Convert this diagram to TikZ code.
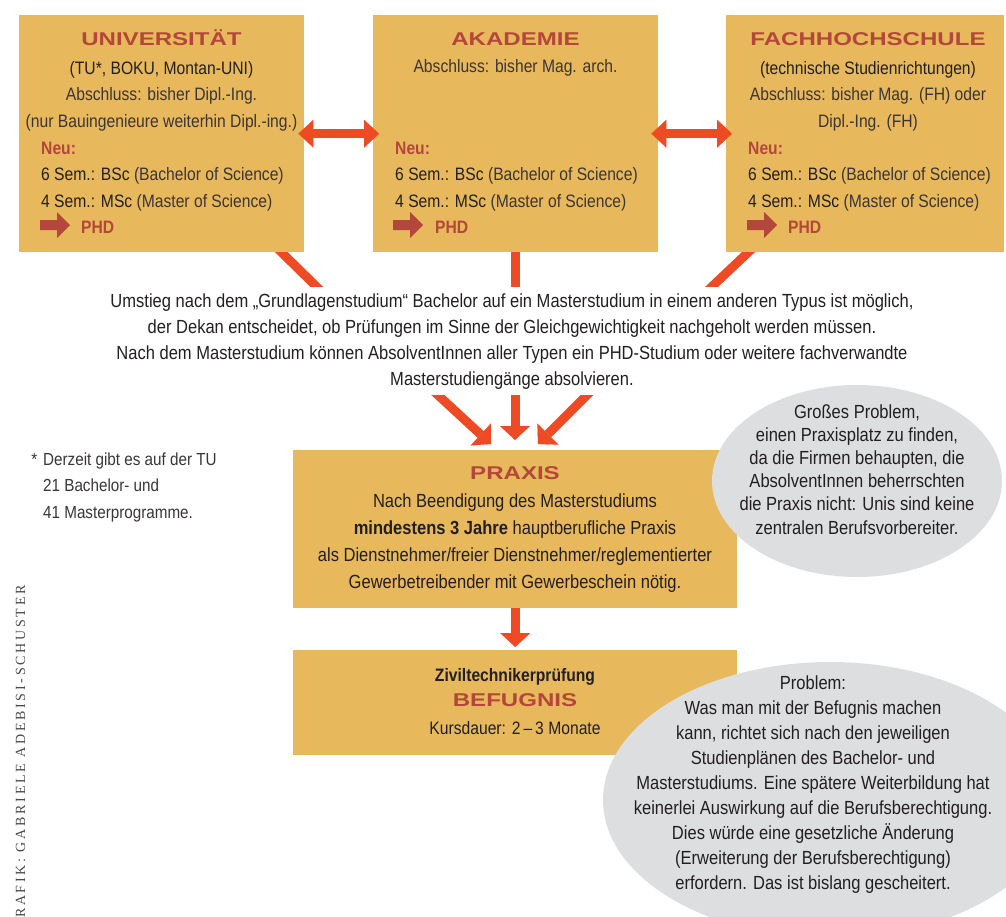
\documentclass[tikz,border=0pt]{standalone}
\usepackage{fontspec}
\setmainfont{Liberation Sans}[FakeStretch=0.87]
\newfontfamily\titlefont{Liberation Sans}[FakeStretch=1.3]
\newfontfamily\creditfont{Liberation Serif}[LetterSpace=19.5]
\usetikzlibrary{arrows.meta,shapes.geometric}
\definecolor{boxfill}{HTML}{E8B85C}
\definecolor{titlered}{HTML}{B4473B}
\definecolor{arrowor}{HTML}{EE4B24}
\definecolor{ellgray}{HTML}{DDDEE0}
\definecolor{ink}{HTML}{231F20}
\definecolor{lightink}{HTML}{3A3536}
\definecolor{creditgray}{HTML}{4A4A4A}
\tikzset{
  box/.style={fill=boxfill, draw=none, inner sep=0pt, anchor=north west},
  ttl/.style={font=\titlefont\bfseries\fontsize{18.5}{20}\selectfont, text=titlered, inner sep=0pt, anchor=base},
  hdr/.style={font=\fontsize{18}{26.5}\selectfont, align=center, inner sep=0pt, anchor=base, text=lightink},
  bodytxt/.style={font=\fontsize{18}{26.5}\selectfont, align=left, inner sep=0pt, anchor=base west, text=ink},
  phdtxt/.style={font=\bfseries\fontsize{18}{20}\selectfont, text=titlered, inner sep=0pt, anchor=base west},
  conn/.style={draw=arrowor, line width=9pt},
  dblarrow/.style={conn, {Triangle[length=15pt,width=28pt,line width=0.1pt]}-{Triangle[length=15pt,width=28pt,line width=0.1pt]}},
  downarrow/.style={conn, -{Triangle[length=14pt,width=30pt,line width=0.1pt]}},
  ell/.style={ellipse, fill=ellgray, draw=none, inner sep=0pt},
  elltxt/.style={align=center, inner sep=0pt, anchor=base, text=ink},
}
\begin{document}
\begin{tikzpicture}[x=1pt,y=-1pt]
\useasboundingbox (0,0) rectangle (1006,916);

% connector end points
\coordinate (l1a) at (272,243);
\coordinate (l1b) at (325,295);
\coordinate (l2a) at (515.5,243);
\coordinate (l2b) at (515.5,295);
\coordinate (l3a) at (758,243);
\coordinate (l3b) at (703,295);
\coordinate (d1a) at (427,385);
\coordinate (d2a) at (515,385);
\coordinate (d3a) at (597,385);
\coordinate (d1b) at (491,444);
\coordinate (d2b) at (515,440);
\coordinate (d3b) at (538,444);

% lines from boxes to the explanation text
\begin{scope}
  \clip (0,252) rectangle (1006,286);
  \draw[conn] (l1a) -- (l1b);
  \draw[conn] (l2a) -- (l2b);
  \draw[conn] (l3a) -- (l3b);
\end{scope}
% arrows from the explanation text to PRAXIS
\begin{scope}
  \clip (0,395) rectangle (1006,450);
  \draw[downarrow] (d1a) -- (d1b);
  \draw[downarrow] (d2a) -- (d2b);
  \draw[downarrow] (d3a) -- (d3b);
\end{scope}

% top boxes
\node[box, minimum width=285, minimum height=237] (uni) at (19,15) {};
\node[box, minimum width=285, minimum height=237] (aka) at (373,15) {};
\node[box, minimum width=278, minimum height=237] (fh) at (726,15) {};

% Universitaet
\node[ttl] (unit) at (161.5,45) {UNIVERSITÄT};
\node[hdr] (unih) at (161.5,127) {\textcolor{ink}{(TU*, BOKU, Montan-UNI)}\\Abschluss: bisher Dipl.-Ing.\\(nur Bauingenieure weiterhin Dipl.-ing.)};
\node[bodytxt] (unib) at (41,207) {\textcolor{titlered}{\bfseries Neu:}\\6 Sem.: BSc \textcolor{lightink}{(Bachelor of Science)}\\4 Sem.: MSc \textcolor{lightink}{(Master of Science)}};
\fill[titlered] (40,220) -- (57,220) -- (57,212) -- (70,225) -- (57,238) -- (57,230) -- (40,230) -- cycle;
\node[phdtxt] (uniphd) at (81,233.5) {PHD};

% Akademie
\node[ttl] (akat) at (515.5,45) {AKADEMIE};
\node[hdr] (akah) at (515.5,72) {Abschluss: bisher Mag. arch.};
\node[bodytxt] (akab) at (395,207) {\textcolor{titlered}{\bfseries Neu:}\\6 Sem.: BSc \textcolor{lightink}{(Bachelor of Science)}\\4 Sem.: MSc \textcolor{lightink}{(Master of Science)}};
\fill[titlered] (393,220) -- (410,220) -- (410,212) -- (423,225) -- (410,238) -- (410,230) -- (393,230) -- cycle;
\node[phdtxt] (akaphd) at (435,233.5) {PHD};

% Fachhochschule
\node[ttl] (fht) at (868,45) {FACHHOCHSCHULE};
\node[hdr] (fhh) at (868,127) {\textcolor{ink}{(technische Studienrichtungen)}\\Abschluss: bisher Mag. (FH) oder\\Dipl.-Ing. (FH)};
\node[bodytxt] (fhb) at (748,207) {\textcolor{titlered}{\bfseries Neu:}\\6 Sem.: BSc \textcolor{lightink}{(Bachelor of Science)}\\4 Sem.: MSc \textcolor{lightink}{(Master of Science)}};
\fill[titlered] (747,220) -- (764,220) -- (764,212) -- (777,225) -- (764,238) -- (764,230) -- (747,230) -- cycle;
\node[phdtxt] (fhphd) at (788,233.5) {PHD};

% double arrows between the boxes
\draw[dblarrow] ([xshift=-6pt]uni.east) -- ([xshift=6pt]aka.west);
\draw[dblarrow] ([xshift=-7pt]aka.east) -- ([xshift=6pt]fh.west);

% explanation text
\node[font=\fontsize{19}{26}\selectfont, align=center, inner sep=0pt, anchor=base, text=ink] (umstieg) at (512,385)
 {Umstieg nach dem „Grundlagenstudium“ Bachelor auf ein Masterstudium in einem anderen Typus ist möglich,\\
  der Dekan entscheidet, ob Prüfungen im Sinne der Gleichgewichtigkeit nachgeholt werden müssen.\\
  Nach dem Masterstudium können AbsolventInnen aller Typen ein PHD-Studium oder weitere fachverwandte\\
  Masterstudiengänge absolvieren.};

% footnote
\node[font=\fontsize{17.5}{26.5}\selectfont, align=left, inner sep=0pt, anchor=base west, text=lightink] (foot) at (43,518)
 {\llap{*\hspace{6pt}}Derzeit gibt es auf der TU\\21 Bachelor- und\\41 Masterprogramme.};

% PRAXIS
\node[box, minimum width=444, minimum height=158] (praxis) at (293,450) {};
\node[ttl] (praxist) at (515,479) {PRAXIS};
\node[font=\fontsize{19}{27}\selectfont, align=center, inner sep=0pt, anchor=base, text=ink] (praxisb) at (515,588)
 {Nach Beendigung des Masterstudiums\\
  \textbf{mindestens 3 Jahre} hauptberufliche Praxis\\
  als Dienstnehmer/freier Dienstnehmer/reglementierter\\
  Gewerbetreibender mit Gewerbeschein nötig.};

% BEFUGNIS
\node[box, minimum width=444, minimum height=105] (bef) at (293,650) {};
\node[font=\bfseries\fontsize{18}{20}\selectfont, inner sep=0pt, anchor=base, text=ink] (befz) at (515,681) {Ziviltechnikerprüfung};
\node[ttl] (beft) at (515,706) {BEFUGNIS};
\node[font=\fontsize{18}{20}\selectfont, inner sep=0pt, anchor=base, text=ink] (befk) at (515,734) {Kursdauer: 2\,–\,3 Monate};

\draw[downarrow, shorten >=3pt] (praxis.south) -- (bef.north);

% ellipses
\node[ell, minimum width=290, minimum height=192] (e1) at (857,481) {};
\node[elltxt, font=\fontsize{19}{23.2}\selectfont] (e1t) at (857,534)
 {Großes Problem,\\einen Praxisplatz zu finden,\\da die Firmen behaupten, die\\AbsolventInnen beherrschten\\die Praxis nicht: Unis sind keine\\zentralen Berufsvorbereiter.};
\node[ell, minimum width=454, minimum height=276] (e2) at (830,800) {};
\node[elltxt, font=\fontsize{19}{24.9}\selectfont] (e2t) at (813,889)
 {Problem:\\Was man mit der Befugnis machen\\kann, richtet sich nach den jeweiligen\\Studienplänen des Bachelor- und\\Masterstudiums. Eine spätere Weiterbildung hat\\keinerlei Auswirkung auf die Berufsberechtigung.\\Dies würde eine gesetzliche Änderung\\(Erweiterung der Berufsberechtigung)\\erfordern. Das ist bislang gescheitert.};

% credit
\node[rotate=90, anchor=base east, inner sep=0pt, text=creditgray, font=\creditfont\fontsize{14}{16}\selectfont] (credit) at (25,585)
 {GRAFIK: GABRIELE ADEBISI-SCHUSTER};
\end{tikzpicture}
\end{document}
